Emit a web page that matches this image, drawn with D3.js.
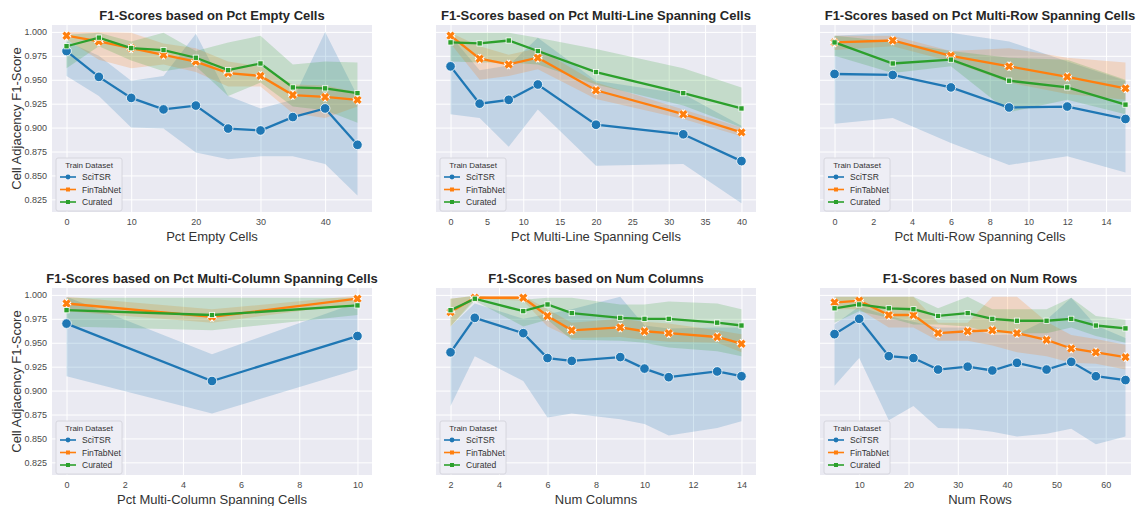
<!DOCTYPE html>
<html>
<head>
<meta charset="utf-8">
<script src="https://cdn.jsdelivr.net/npm/d3@7"></script>
<style>
  html, body { margin: 0; padding: 0; background: #ffffff; }
  svg { display: block; font-family: "Liberation Sans", Arial, sans-serif; }
</style>
</head>
<body>
<svg id="chart" width="1136" height="506"></svg>
<script>
// ---- Series names & colours ----
const seriesNames = ["SciTSR", "FinTabNet", "Curated"];
const seriesColors = ["#1f77b4", "#ff7f0e", "#2ca02c"];
const yTicks = [0.825, 0.850, 0.875, 0.900, 0.925, 0.950, 0.975, 1.000];

// ---- Pct Empty Cells ----
const emptyX       = [0, 5, 10, 15, 20, 25, 30, 35, 40, 45];
const emptySci     = [0.980, 0.953, 0.931, 0.919, 0.923, 0.899, 0.897, 0.911, 0.920, 0.882];
const emptySciLo   = [0.954, 0.933, 0.900, 0.899, 0.874, 0.867, 0.870, 0.870, 0.862, 0.829];
const emptySciHi   = [0.990, 0.975, 0.949, 0.954, 0.998, 0.933, 0.920, 0.929, 1.000, 0.933];
const emptyFin     = [0.996, 0.990, 0.983, 0.976, 0.969, 0.957, 0.954, 0.934, 0.932, 0.929];
const emptyFinLo   = [0.992, 0.971, 0.962, 0.966, 0.958, 0.943, 0.943, 0.915, 0.910, 0.922];
const emptyFinHi   = [1.000, 1.000, 0.999, 0.988, 0.983, 0.969, 0.964, 0.945, 0.944, 0.937];
const emptyCur     = [0.985, 0.994, 0.983, 0.981, 0.973, 0.960, 0.967, 0.942, 0.941, 0.936];
const emptyCurLo   = [0.962, 0.985, 0.970, 0.959, 0.964, 0.933, 0.947, 0.922, 0.918, 0.905];
const emptyCurHi   = [0.997, 0.999, 0.990, 0.999, 0.980, 0.989, 0.996, 0.966, 0.969, 0.968];

// ---- Pct Multi-Line Spanning Cells ----
const mlineX       = [0, 4, 8, 12, 20, 32, 40];
const mlineSci     = [0.964, 0.925, 0.929, 0.945, 0.903, 0.893, 0.865];
const mlineSciLo   = [0.914, 0.910, 0.880, 0.919, 0.860, 0.862, 0.821];
const mlineSciHi   = [0.996, 0.960, 0.965, 0.994, 0.949, 0.935, 0.902];
const mlineFin     = [0.996, 0.972, 0.966, 0.973, 0.939, 0.914, 0.895];
const mlineFinLo   = [0.988, 0.950, 0.954, 0.961, 0.930, 0.909, 0.891];
const mlineFinHi   = [0.999, 0.985, 0.976, 0.983, 0.947, 0.919, 0.900];
const mlineCur     = [0.989, 0.988, 0.991, 0.980, 0.958, 0.936, 0.920];
const mlineCurLo   = [0.969, 0.968, 0.968, 0.966, 0.945, 0.923, 0.900];
const mlineCurHi   = [0.999, 0.999, 0.999, 0.994, 0.982, 0.962, 0.942];

// ---- Pct Multi-Row Spanning Cells ----
const mrowX        = [0, 3, 6, 9, 12, 15];
const mrowSci      = [0.956, 0.955, 0.942, 0.921, 0.922, 0.909];
const mrowSciLo    = [0.904, 0.910, 0.884, 0.861, 0.870, 0.853];
const mrowSciHi    = [0.996, 0.999, 0.999, 0.990, 0.969, 0.949];
const mrowFin      = [0.989, 0.991, 0.975, 0.964, 0.953, 0.941];
const mrowFinLo    = [0.981, 0.985, 0.969, 0.947, 0.935, 0.929];
const mrowFinHi    = [0.996, 0.996, 0.980, 0.983, 0.973, 0.968];
const mrowCur      = [0.989, 0.967, 0.971, 0.949, 0.942, 0.924];
const mrowCurLo    = [0.975, 0.957, 0.964, 0.916, 0.929, 0.914];
const mrowCurHi    = [0.996, 0.990, 0.980, 0.973, 0.971, 0.950];

// ---- Pct Multi-Column Spanning Cells ----
const mcolX        = [0, 5, 10];
const mcolSci      = [0.970, 0.910, 0.957];
const mcolSciLo    = [0.915, 0.876, 0.922];
const mcolSciHi    = [0.998, 0.938, 0.992];
const mcolFin      = [0.991, 0.977, 0.996];
const mcolFinLo    = [0.983, 0.971, 0.991];
const mcolFinHi    = [0.998, 0.985, 0.999];
const mcolCur      = [0.984, 0.979, 0.989];
const mcolCurLo    = [0.967, 0.963, 0.979];
const mcolCurHi    = [0.997, 0.997, 0.997];

// ---- Num Columns ----
const ncolX        = [2, 3, 5, 6, 7, 9, 10, 11, 13, 14];
const ncolSci      = [0.940, 0.976, 0.960, 0.934, 0.931, 0.935, 0.923, 0.914, 0.920, 0.915];
const ncolSciLo    = [0.884, 0.936, 0.910, 0.872, 0.876, 0.870, 0.865, 0.853, 0.861, 0.868];
const ncolSciHi    = [0.967, 0.991, 0.975, 0.980, 0.985, 0.998, 0.968, 0.965, 0.966, 0.966];
const ncolFin      = [0.982, 0.997, 0.997, 0.978, 0.963, 0.966, 0.962, 0.960, 0.956, 0.949];
const ncolFinLo    = [0.967, 0.996, 0.994, 0.967, 0.955, 0.956, 0.953, 0.951, 0.950, 0.940];
const ncolFinHi    = [0.996, 0.999, 0.999, 0.985, 0.971, 0.975, 0.972, 0.970, 0.963, 0.959];
const ncolCur      = [0.984, 0.996, 0.983, 0.990, 0.981, 0.976, 0.975, 0.975, 0.971, 0.968];
const ncolCurLo    = [0.967, 0.994, 0.967, 0.974, 0.953, 0.952, 0.950, 0.945, 0.941, 0.936];
const ncolCurHi    = [0.996, 0.999, 0.995, 0.997, 0.997, 0.990, 0.990, 0.993, 0.991, 0.985];

// ---- Num Rows ----
const nrowX        = [5, 10, 16, 21, 26, 32, 37, 42, 48, 53, 58, 64];
const nrowSci      = [0.959, 0.975, 0.936, 0.934, 0.922, 0.925, 0.921, 0.929, 0.922, 0.930, 0.915, 0.911];
const nrowSciLo    = [0.905, 0.934, 0.869, 0.884, 0.861, 0.860, 0.857, 0.852, 0.855, 0.860, 0.844, 0.852];
const nrowSciHi    = [0.969, 0.988, 0.978, 0.972, 0.966, 0.966, 0.958, 0.959, 0.974, 0.997, 0.968, 0.955];
const nrowFin      = [0.992, 0.994, 0.979, 0.979, 0.960, 0.962, 0.963, 0.960, 0.953, 0.944, 0.940, 0.935];
const nrowFinLo    = [0.985, 0.985, 0.966, 0.966, 0.952, 0.952, 0.947, 0.940, 0.936, 0.929, 0.928, 0.922];
const nrowFinHi    = [0.998, 0.998, 0.998, 0.998, 0.971, 0.971, 0.998, 0.998, 0.972, 0.958, 0.954, 0.948];
const nrowCur      = [0.986, 0.990, 0.986, 0.985, 0.978, 0.981, 0.975, 0.973, 0.973, 0.975, 0.968, 0.965];
const nrowCurLo    = [0.971, 0.983, 0.976, 0.969, 0.969, 0.967, 0.960, 0.960, 0.960, 0.966, 0.957, 0.950];
const nrowCurHi    = [0.998, 0.998, 0.998, 0.998, 0.986, 0.998, 0.985, 0.985, 0.985, 0.997, 0.978, 0.974];

// ---- Panel table assembled from the arrays above ----
const panels = [
  { title: "F1-Scores based on Pct Empty Cells", xlabel: "Pct Empty Cells", x: emptyX,
    ticks: [0, 10, 20, 30, 40],
    series: [[emptySci, emptySciLo, emptySciHi], [emptyFin, emptyFinLo, emptyFinHi], [emptyCur, emptyCurLo, emptyCurHi]] },
  { title: "F1-Scores based on Pct Multi-Line Spanning Cells", xlabel: "Pct Multi-Line Spanning Cells", x: mlineX,
    ticks: [0, 5, 10, 15, 20, 25, 30, 35, 40],
    series: [[mlineSci, mlineSciLo, mlineSciHi], [mlineFin, mlineFinLo, mlineFinHi], [mlineCur, mlineCurLo, mlineCurHi]] },
  { title: "F1-Scores based on Pct Multi-Row Spanning Cells", xlabel: "Pct Multi-Row Spanning Cells", x: mrowX,
    ticks: [0, 2, 4, 6, 8, 10, 12, 14],
    series: [[mrowSci, mrowSciLo, mrowSciHi], [mrowFin, mrowFinLo, mrowFinHi], [mrowCur, mrowCurLo, mrowCurHi]] },
  { title: "F1-Scores based on Pct Multi-Column Spanning Cells", xlabel: "Pct Multi-Column Spanning Cells", x: mcolX,
    ticks: [0, 2, 4, 6, 8, 10],
    series: [[mcolSci, mcolSciLo, mcolSciHi], [mcolFin, mcolFinLo, mcolFinHi], [mcolCur, mcolCurLo, mcolCurHi]] },
  { title: "F1-Scores based on Num Columns", xlabel: "Num Columns", x: ncolX,
    ticks: [2, 4, 6, 8, 10, 12, 14],
    series: [[ncolSci, ncolSciLo, ncolSciHi], [ncolFin, ncolFinLo, ncolFinHi], [ncolCur, ncolCurLo, ncolCurHi]] },
  { title: "F1-Scores based on Num Rows", xlabel: "Num Rows", x: nrowX,
    ticks: [10, 20, 30, 40, 50, 60],
    series: [[nrowSci, nrowSciLo, nrowSciHi], [nrowFin, nrowFinLo, nrowFinHi], [nrowCur, nrowCurLo, nrowCurHi]] }
];

// ---- Layout ----
const colLeft = [52, 436, 820];
const rowTop = [25, 288];
const plotW = 320, plotH = 187;
const figRight = 1131;          // the figure's right border trims the last column
const yDomain = [0.8118, 1.0072];
const bg = "#eaeaf2";
const tickColor = "#4a4a4a";

const svg = d3.select("#chart");
const defs = svg.append("defs");

// marker symbols per series: circle, X, square
function drawMarker(g, kind, color, size) {
  if (kind === 0) {
    g.append("circle").attr("r", size).attr("fill", color)
      .attr("stroke", "#fff").attr("stroke-width", 0.8);
  } else if (kind === 1) {
    const d = d3.symbol(d3.symbolX, size * size * 4.2)();
    g.append("path").attr("d", d)
      .attr("stroke", "#fff").attr("stroke-width", 5.4).attr("fill", "none");
    g.append("path").attr("d", d)
      .attr("stroke", color).attr("stroke-width", 3.2).attr("fill", "none");
  } else {
    g.append("rect").attr("x", -size * 0.75).attr("y", -size * 0.75)
      .attr("width", size * 1.5).attr("height", size * 1.5).attr("fill", color)
      .attr("stroke", "#fff").attr("stroke-width", 0.8);
  }
}

panels.forEach((p, i) => {
  const col = i % 3, row = Math.floor(i / 3);
  const left = colLeft[col], top = rowTop[row];
  const xmin = d3.min(p.x), xmax = d3.max(p.x), pad = (xmax - xmin) * 0.05;
  const x = d3.scaleLinear().domain([xmin - pad, xmax + pad]).range([0, plotW]);
  const y = d3.scaleLinear().domain(yDomain).range([plotH, 0]);

  // clip each panel at the figure border
  defs.append("clipPath").attr("id", `panelClip${i}`)
    .append("rect").attr("x", -60).attr("y", -10)
    .attr("width", 60 + Math.min(plotW + 20, figRight - left)).attr("height", plotH + 40);

  const g = svg.append("g").attr("transform", `translate(${left},${top})`)
    .attr("clip-path", `url(#panelClip${i})`);
  g.append("rect").attr("width", plotW).attr("height", plotH).attr("fill", bg);

  // white grid lines from the axes' ticks
  g.append("g").attr("transform", `translate(0,${plotH})`)
    .call(d3.axisBottom(x).tickValues(p.ticks).tickSize(-plotH).tickFormat(d3.format("d")).tickPadding(7))
    .call(a => a.select(".domain").remove())
    .call(a => a.selectAll(".tick line").attr("stroke", "#fff").attr("stroke-width", 1))
    .call(a => a.selectAll(".tick text").attr("fill", tickColor).attr("font-size", 9)
      .attr("font-family", "Liberation Sans, Arial, sans-serif"));

  g.append("g")
    .call(d3.axisLeft(y).tickValues(yTicks).tickSize(-plotW).tickFormat(d3.format(".3f")).tickPadding(5))
    .call(a => a.select(".domain").remove())
    .call(a => a.selectAll(".tick line").attr("stroke", "#fff").attr("stroke-width", 1))
    .call(a => a.selectAll(".tick text").attr("fill", tickColor).attr("font-size", 9)
      .attr("font-family", "Liberation Sans, Arial, sans-serif")
      .style("display", col === 0 ? null : "none"));

  // confidence bands
  p.series.forEach((s, k) => {
    const pts = p.x.map((xv, j) => ({ x: xv, lo: s[1][j], hi: s[2][j] }));
    g.append("path").datum(pts)
      .attr("d", d3.area().x(d => x(d.x)).y0(d => y(d.lo)).y1(d => y(d.hi)))
      .attr("fill", seriesColors[k]).attr("fill-opacity", 0.2).attr("stroke", "none");
  });

  // mean lines + markers
  p.series.forEach((s, k) => {
    const pts = p.x.map((xv, j) => ({ x: xv, v: s[0][j] }));
    g.append("path").datum(pts)
      .attr("d", d3.line().x(d => x(d.x)).y(d => y(d.v)))
      .attr("fill", "none").attr("stroke", seriesColors[k]).attr("stroke-width", 2.3);
    pts.forEach(d => {
      const m = g.append("g").attr("transform", `translate(${x(d.x)},${y(d.v)})`);
      drawMarker(m, k, seriesColors[k], k === 0 ? 4.8 : (k === 1 ? 2.5 : 3.5));
    });
  });

  // title
  svg.append("text").attr("x", left + plotW / 2).attr("y", top - 5)
    .attr("text-anchor", "middle").attr("font-size", 13).attr("font-weight", "bold")
    .attr("fill", "#262626").text(p.title);

  // x label
  svg.append("text").attr("x", left + plotW / 2).attr("y", top + plotH + 29)
    .attr("text-anchor", "middle").attr("font-size", 13).attr("fill", "#333").text(p.xlabel);

  // y label on first column
  if (col === 0) {
    svg.append("text")
      .attr("transform", `translate(${left - 31},${top + plotH / 2}) rotate(-90)`)
      .attr("text-anchor", "middle").attr("font-size", 13).attr("fill", "#333")
      .text("Cell Adjacency F1-Score");
  }

  // legend
  const lg = g.append("g").attr("transform", `translate(4,${plotH - 54})`);
  lg.append("rect").attr("width", 66).attr("height", 53).attr("rx", 2)
    .attr("fill", "#eeeef5").attr("stroke", "#d0d0d8").attr("stroke-width", 0.8);
  lg.append("text").attr("x", 33).attr("y", 9.5).attr("text-anchor", "middle")
    .attr("font-size", 8).attr("fill", "#333").text("Train Dataset");
  seriesNames.forEach((n, k) => {
    const ly = 19 + k * 12.5;
    lg.append("line").attr("x1", 4).attr("x2", 20).attr("y1", ly).attr("y2", ly)
      .attr("stroke", seriesColors[k]).attr("stroke-width", 1.6);
    const m = lg.append("g").attr("transform", `translate(12,${ly})`);
    if (k === 0) m.append("circle").attr("r", 2.4).attr("fill", seriesColors[k]);
    else m.append("rect").attr("x", -2).attr("y", -2).attr("width", 4).attr("height", 4).attr("fill", seriesColors[k]);
    lg.append("text").attr("x", 26).attr("y", ly + 3).attr("font-size", 8.5)
      .attr("fill", "#333").text(n);
  });
});
</script>
</body>
</html>
